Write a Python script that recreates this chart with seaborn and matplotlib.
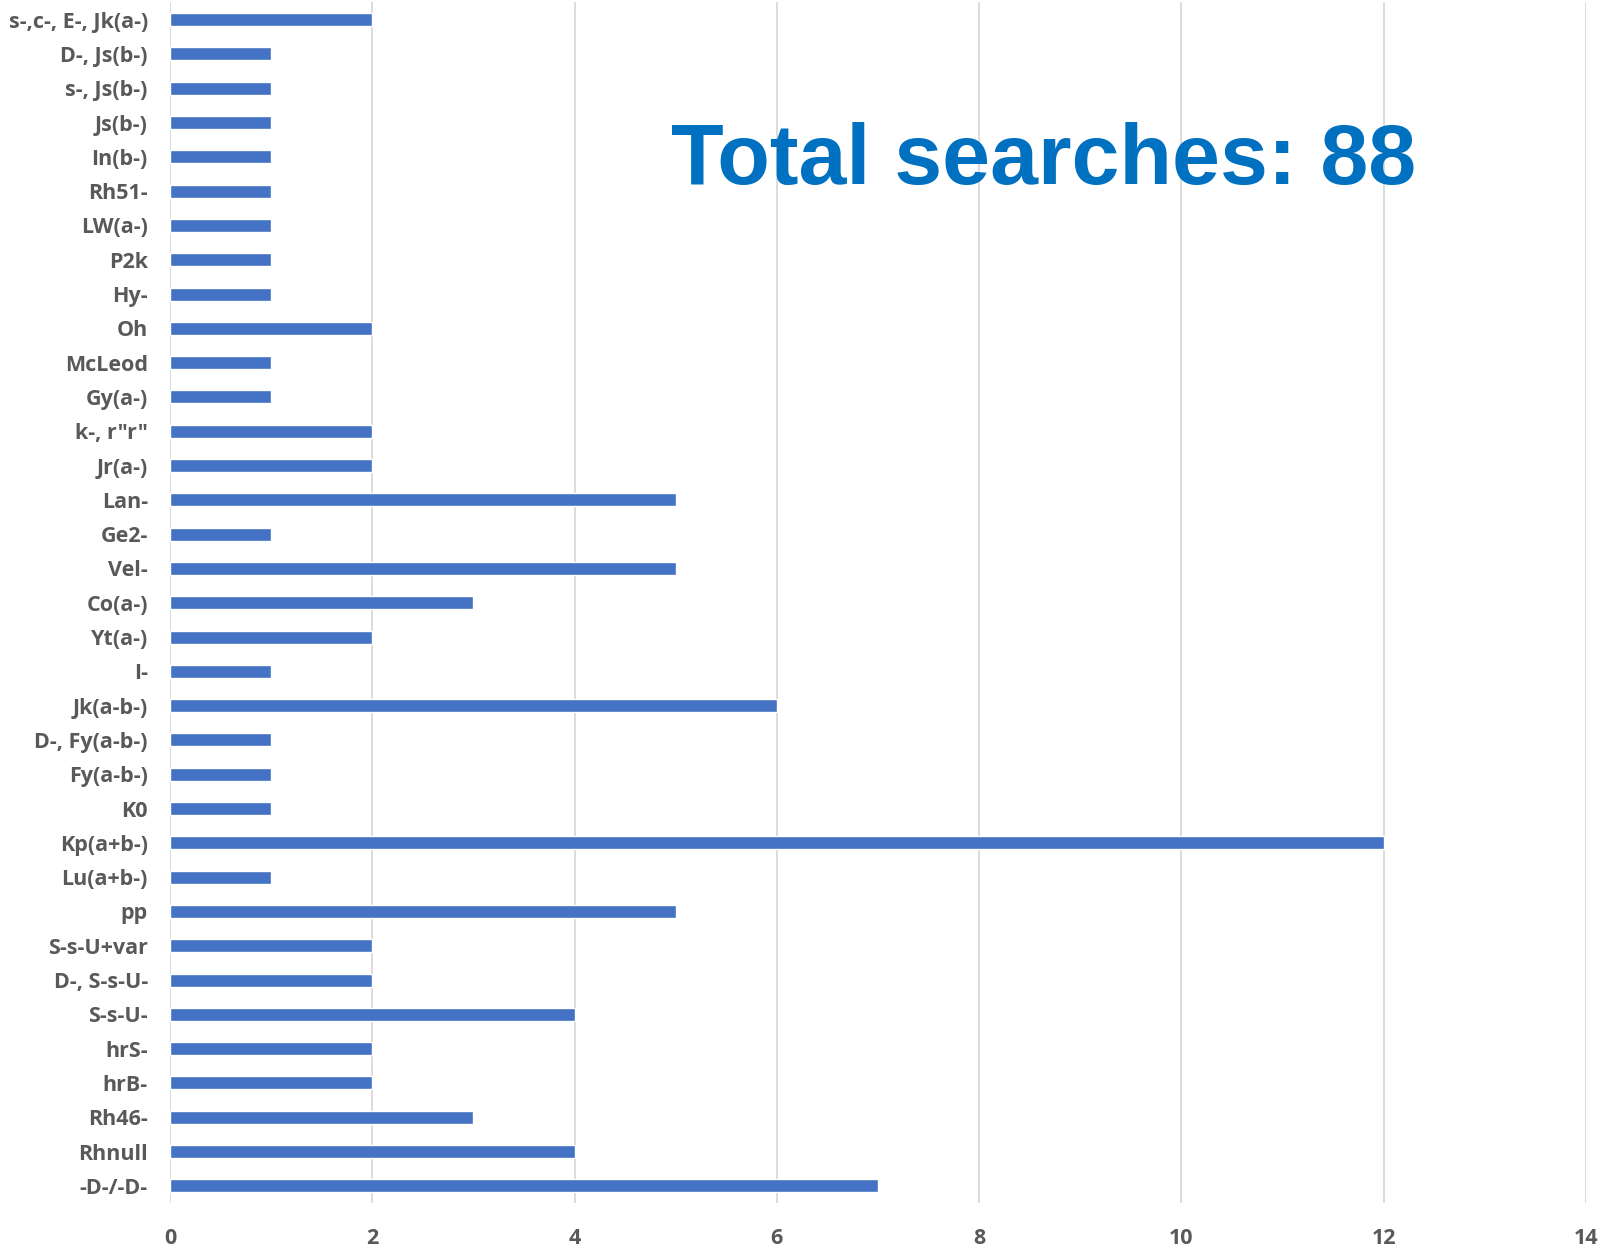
import matplotlib
matplotlib.use("Agg")
import matplotlib.pyplot as plt
import pandas as pd
import seaborn as sns

# phenotypes, top of chart first
PHENOTYPES = [
    "s-,c-, E-, Jk(a-)", "D-, Js(b-)", "s-, Js(b-)", "Js(b-)", "In(b-)", "Rh51-",
    "LW(a-)", "P2k", "Hy-", "Oh", "McLeod", "Gy(a-)", 'k-, r"r"', "Jr(a-)",
    "Lan-", "Ge2-", "Vel-", "Co(a-)", "Yt(a-)", "I-", "Jk(a-b-)", "D-, Fy(a-b-)",
    "Fy(a-b-)", "K0", "Kp(a+b-)", "Lu(a+b-)", "pp", "S-s-U+var", "D-, S-s-U-",
    "S-s-U-", "hrS-", "hrB-", "Rh46-", "Rhnull", "-D-/-D-",
]
SEARCHES = [
    2, 1, 1, 1, 1, 1,
    1, 1, 1, 2, 1, 1, 2, 2,
    5, 1, 5, 3, 2, 1, 6, 1,
    1, 1, 12, 1, 5, 2, 2,
    4, 2, 2, 3, 4, 7,
]
X_TICKS = [0, 2, 4, 6, 8, 10, 12, 14]

BAR_COLOR = "#4472C4"
LABEL_COLOR = "#595959"
TITLE_COLOR = "#0070C0"

sns.set_theme(style="white")
plt.rcParams["font.family"] = ["Open Sans", "DejaVu Sans"]

df = pd.DataFrame({"Phenotype": PHENOTYPES, "Searches": SEARCHES})

fig = plt.figure(figsize=(16.1, 12.46), dpi=100)
ax = fig.add_axes([0.1056, 0.0345, 0.8794, 0.9635])

sns.barplot(data=df, x="Searches", y="Phenotype", color=BAR_COLOR,
            width=0.38, saturation=1, ax=ax, zorder=2)

ax.set_xlim(0, 14)
ax.set_xticks(X_TICKS)
ax.xaxis.grid(True, color="#D9D9D9", linewidth=1.3, zorder=0)
ax.yaxis.grid(False)
ax.set_axisbelow(True)
for s in ax.spines.values():
    s.set_visible(False)
ax.set_xlabel("")
ax.set_ylabel("")
ax.tick_params(axis="y", length=0, pad=16, labelsize=15.5, labelcolor=LABEL_COLOR)
ax.tick_params(axis="x", length=0, pad=18, labelsize=15.5, labelcolor=LABEL_COLOR)
for lbl in ax.get_yticklabels() + ax.get_xticklabels():
    lbl.set_fontweight("bold")

ax.text(0.648, 0.87, "Total searches: 88", transform=fig.transFigure,
        ha="center", va="center", fontsize=62, fontweight="bold",
        color=TITLE_COLOR, family=["Liberation Sans", "DejaVu Sans"])

fig.savefig("out.png", dpi=100)
